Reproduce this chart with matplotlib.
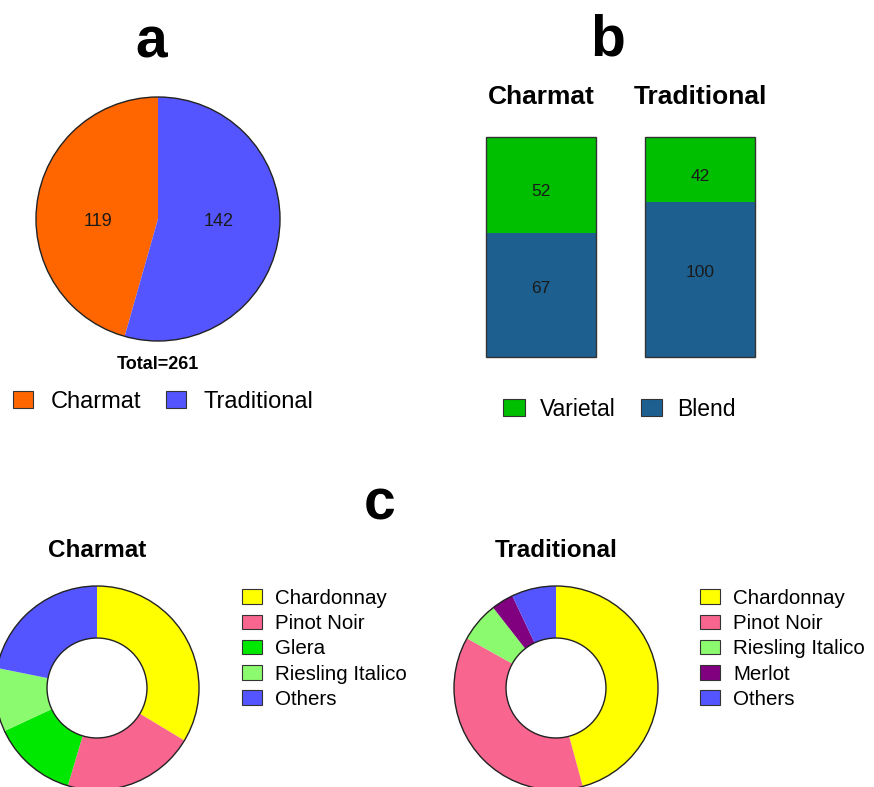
import matplotlib
matplotlib.use("Agg")
import matplotlib.pyplot as plt
from matplotlib.patches import Patch, Circle
import numpy as np

plt.rcParams["font.family"] = ["Liberation Sans", "DejaVu Sans"]

# ---------------------------
# Data
# ---------------------------
methods = ["Charmat", "Traditional"]
method_counts = [119, 142]

style_labels = ["Varietal", "Blend"]
varietal_counts = [52, 42]
blend_counts = [67, 100]

charmat_grapes = ["Chardonnay", "Pinot Noir", "Glera", "Riesling Italico", "Others"]
charmat_counts = [40, 25, 16, 12, 26]

trad_grapes = ["Chardonnay", "Pinot Noir", "Riesling Italico", "Merlot", "Others"]
trad_counts = [65, 53, 9, 5, 10]

# colours
method_colors = ["#FF6600", "#5555FF"]
style_colors = ["#00BF00", "#1D5F8E"]
grape_colors = {
    "Chardonnay": "#FFFF00",
    "Pinot Noir": "#F8658F",
    "Glera": "#00E800",
    "Riesling Italico": "#8CFA6E",
    "Merlot": "#800080",
    "Others": "#5555FF",
}

W, H = 874, 787
fig = plt.figure(figsize=(W / 100, H / 100), dpi=100)


def box(x0, y0, x1, y1):
    # pixel box (top-left origin) -> figure fraction axes
    return fig.add_axes([x0 / W, 1 - y1 / H, (x1 - x0) / W, (y1 - y0) / H])


def circle_axes(cx, cy, r):
    return box(cx - r, cy - r, cx + r, cy + r)


# ---------------------------
# a: production method pie
# ---------------------------
ax_a = circle_axes(158, 219, 122)
wedges, _ = ax_a.pie(method_counts, colors=method_colors, startangle=90,
                     counterclock=True, wedgeprops=dict(linewidth=0))
for w, n in zip(wedges, method_counts):
    mid = np.deg2rad((w.theta1 + w.theta2) / 2)
    ax_a.text(0.5 * np.cos(mid), -0.02, str(n),
              ha="center", va="center", fontsize=13, color="#1a1a1a")
ax_a.add_patch(Circle((0, 0), 1, fill=False, ec="#222222", lw=1.0, clip_on=False))
ax_a.text(0, -1.19, f"Total={sum(method_counts)}", ha="center", va="center",
          fontsize=13, fontweight="bold")
ax_a.set_xlim(-1, 1)
ax_a.set_ylim(-1, 1)
ax_a.axis("off")
ax_a.legend([Patch(fc=c, ec="#333333", lw=0.8) for c in method_colors], methods,
            loc="center left", bbox_to_anchor=(13 / W, 1 - 402 / H),
            bbox_transform=fig.transFigure, ncol=2, frameon=False, fontsize=17,
            handlelength=0.85, handleheight=0.72, handletextpad=0.75,
            columnspacing=1.05, borderpad=0, borderaxespad=0)

# ---------------------------
# b: varietal vs blend (100% stacked)
# ---------------------------
ax_b = box(486, 137, 755, 357)
totals = np.array(varietal_counts) + np.array(blend_counts)
blend_frac = np.array(blend_counts) / totals
var_frac = np.array(varietal_counts) / totals
x = np.arange(len(methods))
bw = 0.69
ax_b.bar(x, blend_frac, bw, color=style_colors[1], lw=0)
ax_b.bar(x, var_frac, bw, bottom=blend_frac, color=style_colors[0], lw=0)
ax_b.bar(x, blend_frac + var_frac, bw, fill=False, ec="#333333", lw=1.0, clip_on=False)
for i in x:
    ax_b.text(i, blend_frac[i] / 2 + 0.03, str(blend_counts[i]), ha="center",
              va="center", fontsize=12.5, color="#1a1a1a")
    ax_b.text(i, blend_frac[i] + var_frac[i] / 2 - 0.03, str(varietal_counts[i]),
              ha="center", va="center", fontsize=12.5, color="#1a1a1a")
    ax_b.text(i, 1.18, methods[i], ha="center", va="center", fontsize=19,
              fontweight="bold")
ax_b.set_xlim(-bw / 2, 1 + bw / 2)
ax_b.set_ylim(0, 1)
ax_b.axis("off")
ax_b.legend([Patch(fc=c, ec="#333333", lw=0.8) for c in style_colors], style_labels,
            loc="center left", bbox_to_anchor=(503 / W, 1 - 409 / H),
            bbox_transform=fig.transFigure, ncol=2, frameon=False, fontsize=16.5,
            handlelength=0.95, handleheight=0.78, handletextpad=0.65,
            columnspacing=1.1, borderpad=0, borderaxespad=0)

# ---------------------------
# c: grape varieties donuts
# ---------------------------
def donut(cx, cy, r, labels, counts, title, leg_x):
    ax = circle_axes(cx, cy, r)
    cols = [grape_colors[g] for g in labels]
    ax.pie(counts, colors=cols, startangle=90, counterclock=False,
           wedgeprops=dict(width=0.51, linewidth=0))
    ax.add_patch(Circle((0, 0), 1, fill=False, ec="#222222", lw=1.0, clip_on=False))
    ax.add_patch(Circle((0, 0), 0.49, fill=False, ec="#222222", lw=1.0, clip_on=False))
    ax.text(0, 1.35, title, ha="center", va="center", fontsize=17.5, fontweight="bold")
    ax.set_xlim(-1, 1)
    ax.set_ylim(-1, 1)
    ax.axis("off")
    ax.legend([Patch(fc=c, ec="#333333", lw=0.8) for c in cols], labels,
              loc="upper left", bbox_to_anchor=(leg_x / W, 1 - 589 / H),
              bbox_transform=fig.transFigure, frameon=False, fontsize=14.8,
              handlelength=0.98, handleheight=0.72, handletextpad=0.63,
              labelspacing=0.3, borderpad=0, borderaxespad=0)


donut(97, 688, 102, charmat_grapes, charmat_counts, "Charmat", 242)
donut(556, 688, 102, trad_grapes, trad_counts, "Traditional", 700)

# panel letters
fig.text(151 / W, 1 - 42 / H, "a", ha="center", va="center", fontsize=41, fontweight="bold")
fig.text(608 / W, 1 - 41 / H, "b", ha="center", va="center", fontsize=41, fontweight="bold")
fig.text(380 / W, 1 - 505 / H, "c", ha="center", va="center", fontsize=41, fontweight="bold")

fig.savefig("out.png", dpi=100)
